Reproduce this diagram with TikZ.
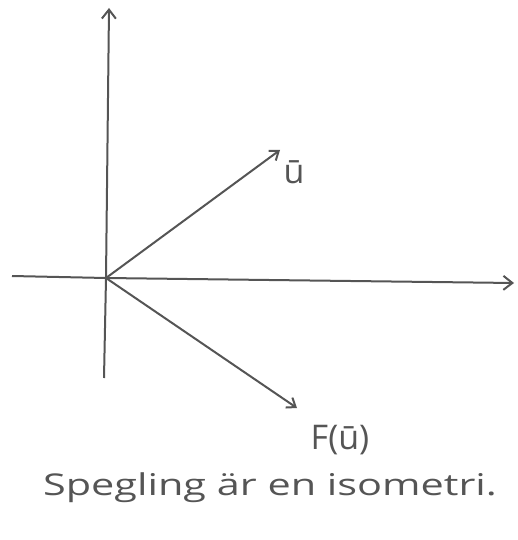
\documentclass[tikz,border=0pt]{standalone}
\usepackage{fontspec}
\setmainfont{Open Sans}
\usetikzlibrary{arrows.meta, positioning}
\definecolor{pen}{RGB}{85, 85, 85}

\begin{document}
\begin{tikzpicture}[
  x=1pt, y=-1pt,
  every node/.style={inner sep=1pt, text=pen},
  axis/.style={draw=pen, line width=2pt, -{Straight Barb[length=9pt, width=14pt]}},
  vec/.style={draw=pen, line width=2pt, -{Straight Barb[length=8pt, width=12pt]}},
  lbl/.style={font=\fontsize{34}{36}\selectfont},
  caption/.style={font=\fontsize{30}{34}\selectfont, xscale=1.38, transform shape}
]
\useasboundingbox (0,0) rectangle (518,540);

% Axes
\coordinate (O)   at (106,278);
\coordinate (top) at (109,8);
\coordinate (bot) at (104,378);
\coordinate (lft) at (12,276);
\coordinate (rgt) at (514,283);
\draw[draw=pen, line width=2pt] (bot) -- (O);
\draw[axis] (O) -- (top);
\draw[draw=pen, line width=2pt] (lft) -- (O);
\draw[axis] (O) -- (rgt);

% Vectors
\coordinate (u)  at (280,150);
\coordinate (Fu) at (297,408);
\draw[vec] (O) -- (u);
\draw[vec] (O) -- (Fu);

% Labels
\node[lbl] (ulbl)  at (294,172) {ū};
\node[lbl] (Fulbl) at (340,440) {F(ū)};
\node[caption] (cap) at (270,488) {Spegling är en isometri.};
\end{tikzpicture}
\end{document}
